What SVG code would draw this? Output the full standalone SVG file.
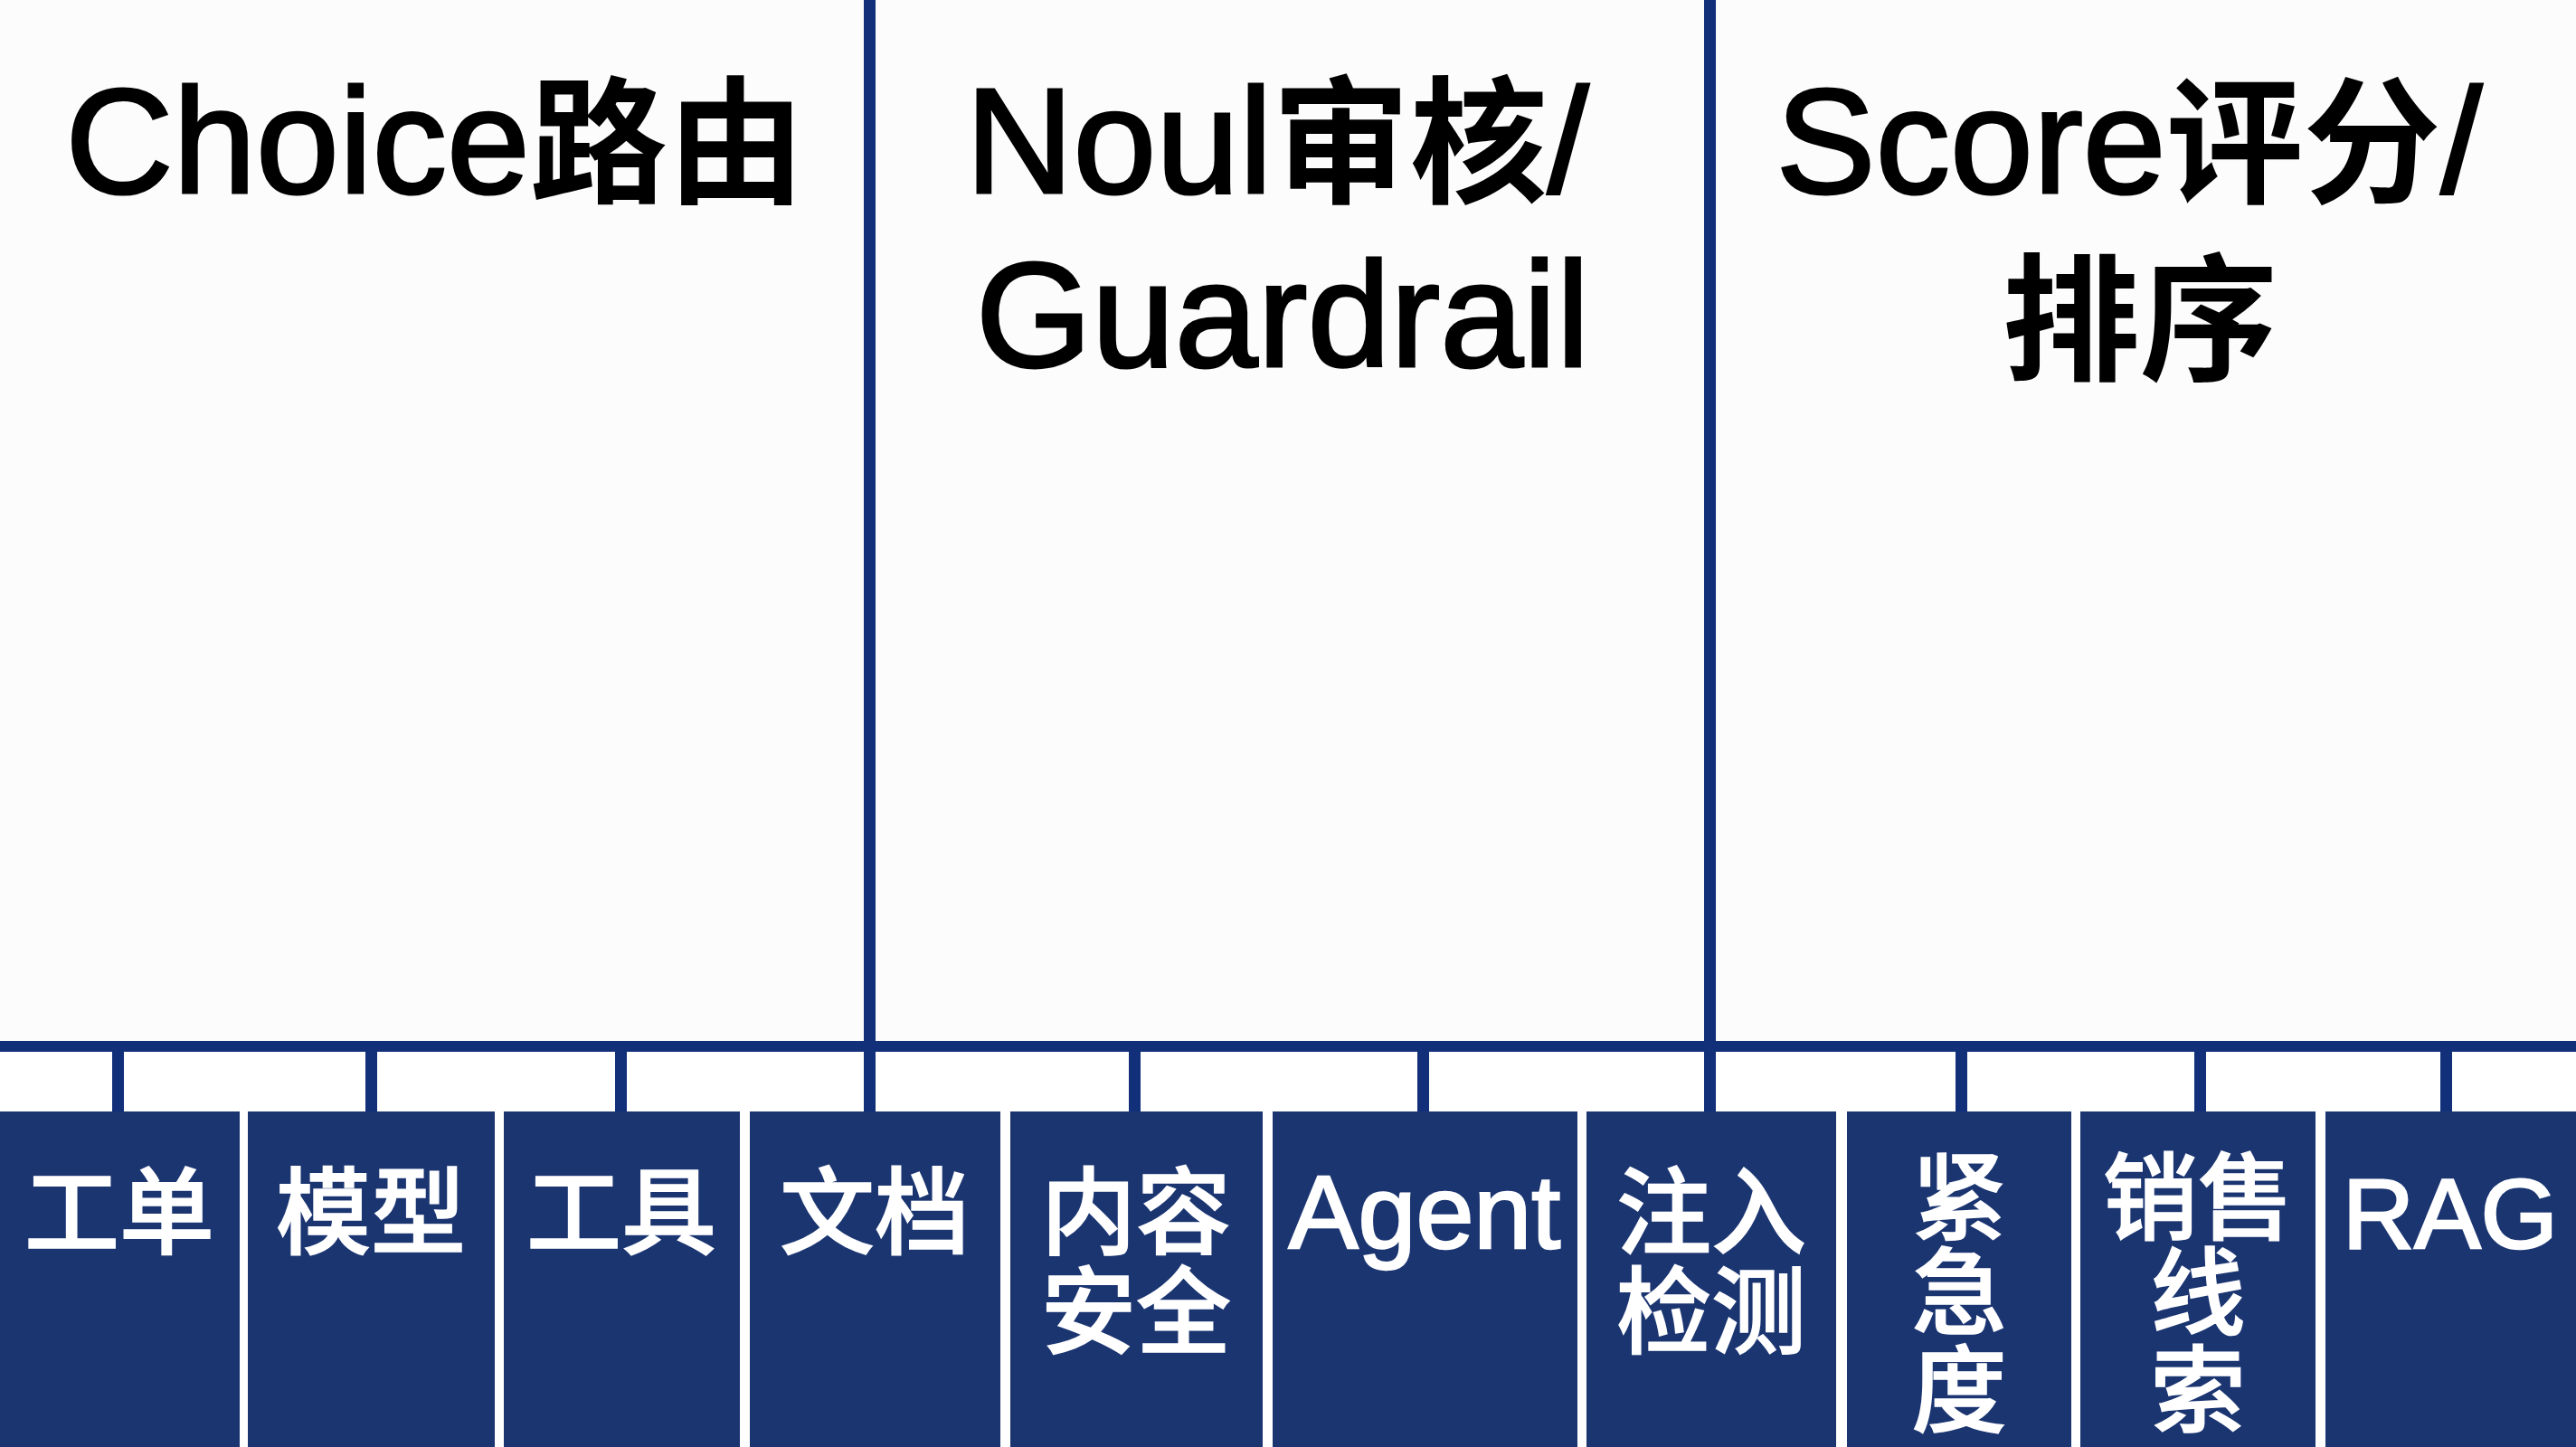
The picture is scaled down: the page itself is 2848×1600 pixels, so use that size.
<svg xmlns="http://www.w3.org/2000/svg" width="2848" height="1600" viewBox="0 0 2848 1600">
<style>
.panel{fill:#fcfcfd}
.box{fill:#1b3571}
.ln{fill:#12307a}
.ttl{font-family:"Liberation Sans","Noto Sans CJK SC",sans-serif;font-size:165px;fill:#000;stroke:#000;stroke-width:3px;text-anchor:middle}
.cjk{font-family:"Noto Sans CJK SC",sans-serif;font-size:152px;font-weight:700;stroke:none}
.lab{font-family:"Noto Sans CJK SC",sans-serif;font-size:105px;font-weight:500;fill:#fff;stroke:#fff;stroke-width:1.5px;text-anchor:middle}
.lat{font-family:"Liberation Sans",sans-serif;font-weight:400;fill:#fff;stroke:#fff;stroke-width:2.5px;text-anchor:middle}
</style>
<rect width="2848" height="1600" fill="#ffffff"/>
<g id="panel-choice">
<rect class="panel" x="0" y="0" width="956" height="1151"/>
<text class="ttl" x="481" y="213">Choice<tspan class="cjk">路由</tspan></text>
</g>
<g id="panel-noul">
<rect class="panel" x="968" y="0" width="916" height="1151"/>
<text class="ttl"><tspan x="1412" y="213">Noul<tspan class="cjk">审核</tspan>/</tspan><tspan x="1418" y="405">Guardrail</tspan></text>
</g>
<g id="panel-score">
<rect class="panel" x="1896" y="0" width="952" height="1151"/>
<text class="ttl"><tspan x="2354" y="213">Score<tspan class="cjk">评分</tspan>/</tspan><tspan class="cjk" x="2366" y="409">排序</tspan></text>
</g>
<g id="connectors">
<rect class="ln" x="0" y="1151" width="2848" height="12"/>
<rect class="ln" x="955" y="0" width="13" height="1230"/>
<rect class="ln" x="1884" y="0" width="13" height="1230"/>
<rect class="ln" x="124" y="1160" width="13" height="70"/>
<rect class="ln" x="404" y="1160" width="13" height="70"/>
<rect class="ln" x="680" y="1160" width="13" height="70"/>
<rect class="ln" x="1248" y="1160" width="13" height="70"/>
<rect class="ln" x="1567" y="1160" width="13" height="70"/>
<rect class="ln" x="2162" y="1160" width="13" height="70"/>
<rect class="ln" x="2426" y="1160" width="13" height="70"/>
<rect class="ln" x="2698" y="1160" width="13" height="70"/>
</g>
<g id="node-gongdan">
<rect class="box" x="0" y="1229" width="265" height="371"/>
<text class="lab" x="132" y="1378">工单</text>
</g>
<g id="node-moxing">
<rect class="box" x="274" y="1229" width="273" height="371"/>
<text class="lab" x="410" y="1378">模型</text>
</g>
<g id="node-gongju">
<rect class="box" x="557" y="1229" width="261" height="371"/>
<text class="lab" x="687" y="1378">工具</text>
</g>
<g id="node-wendang">
<rect class="box" x="829" y="1229" width="277" height="371"/>
<text class="lab" x="967" y="1378">文档</text>
</g>
<g id="node-neirong">
<rect class="box" x="1117" y="1229" width="279" height="371"/>
<text class="lab"><tspan x="1256" y="1378">内容</tspan><tspan x="1256" y="1488">安全</tspan></text>
</g>
<g id="node-agent">
<rect class="box" x="1407" y="1229" width="337" height="371"/>
<text class="lat" x="1575" y="1380" font-size="115">Agent</text>
</g>
<g id="node-zhuru">
<rect class="box" x="1754" y="1229" width="276" height="371"/>
<text class="lab"><tspan x="1892" y="1378">注入</tspan><tspan x="1892" y="1488">检测</tspan></text>
</g>
<g id="node-jinji">
<rect class="box" x="2042" y="1229" width="248" height="371"/>
<text class="lab"><tspan x="2166" y="1362">紧</tspan><tspan x="2166" y="1467">急</tspan><tspan x="2166" y="1575">度</tspan></text>
</g>
<g id="node-xiaoshou">
<rect class="box" x="2300" y="1229" width="260" height="371"/>
<text class="lab"><tspan x="2430" y="1362">销售</tspan><tspan x="2430" y="1467">线</tspan><tspan x="2430" y="1575">索</tspan></text>
</g>
<g id="node-rag">
<rect class="box" x="2571" y="1229" width="277" height="371"/>
<text class="lat" x="2709" y="1380" font-size="110">RAG</text>
</g>
</svg>
